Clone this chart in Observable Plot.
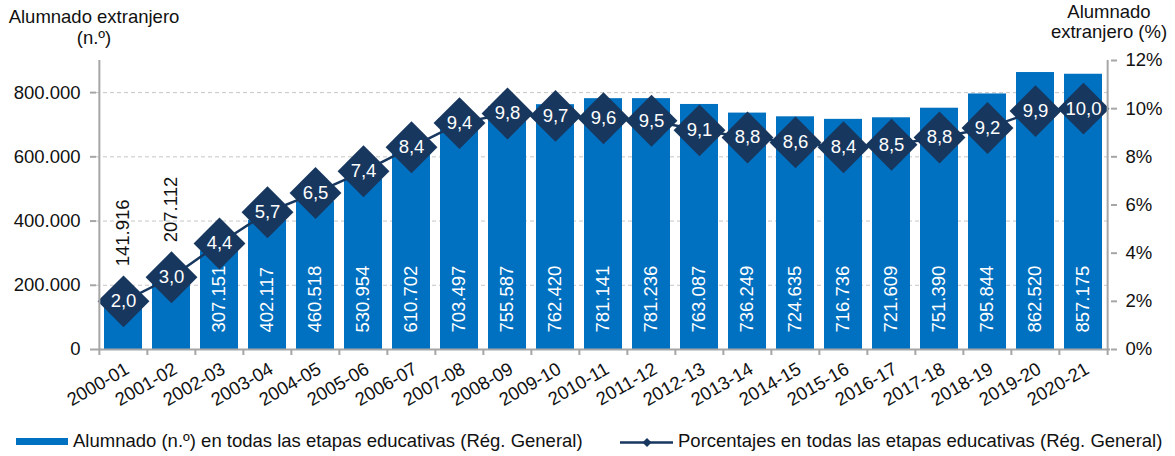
<!DOCTYPE html>
<html>
<head>
<meta charset="utf-8">
<script src="https://cdn.jsdelivr.net/npm/d3@7"></script>
<script src="https://cdn.jsdelivr.net/npm/@observablehq/plot@0.6"></script>
<style>
  body { margin: 0; background: #fff; font-family: "Liberation Sans", Arial, sans-serif; color: #111; }
  #wrap { position: relative; width: 1175px; height: 456px; overflow: hidden; background: #fff; }
  .t { position: absolute; font-size: 18.5px; text-align: center; white-space: nowrap; }
  .lg { position: absolute; font-size: 18.5px; line-height: 18px; white-space: nowrap; }
</style>
</head>
<body>
<div id="wrap">
  <div id="chart"></div>
  <div class="t" style="left:-6px; top:6px; width:200px; line-height:21px;">Alumnado extranjero<br>(n.º)</div>
  <div class="t" style="left:1009px; top:2px; width:200px; line-height:20px;">Alumnado<br>extranjero (%)</div>
  <div id="legend"></div>
</div>
<script>
// ---- Data ----
const years = ["2000-01","2001-02","2002-03","2003-04","2004-05","2005-06","2006-07","2007-08","2008-09","2009-10",
               "2010-11","2011-12","2012-13","2013-14","2014-15","2015-16","2016-17","2017-18","2018-19","2019-20","2020-21"];
const alumnos = [141916, 207112, 307151, 402117, 460518, 530954, 610702, 703497, 755587, 762420,
                 781141, 781236, 763087, 736249, 724635, 716736, 721609, 751390, 795844, 862520, 857175];
const porcentajes = [2.0, 3.0, 4.4, 5.7, 6.5, 7.4, 8.4, 9.4, 9.8, 9.7,
                     9.6, 9.5, 9.1, 8.8, 8.6, 8.4, 8.5, 8.8, 9.2, 9.9, 10.0];
const leftTicks = [0, 200000, 400000, 600000, 800000];
const rightTicks = [0, 2, 4, 6, 8, 10, 12];
const leftMax = 900000, rightMax = 12;
const legendLabels = ["Alumnado (n.º) en todas las etapas educativas (Rég. General)",
                      "Porcentajes en todas las etapas educativas (Rég. General)"];

// ---- Styling ----
const BLUE = "#0070C0", NAVY = "#17375E", AXIS = "#a6a6a6", GRID = "#c6c6c6", TXT = "#111";
const FS = 18.5;
const W = 1175, H = 420, mL = 96, mR = 65, mT = 60, mB = 71;
const step = (W - mL - mR) / years.length;
const K = leftMax / rightMax;

const loc = d3.formatLocale({decimal: ",", thousands: ".", grouping: [3], currency: ["", ""]});
const fmt = loc.format(",");
const pfmt = v => v.toFixed(1).replace(".", ",");

const data = years.map((year, i) => ({year, i, alumnos: alumnos[i], pct: porcentajes[i], pctY: porcentajes[i] * K}));

const chart = Plot.plot({
  width: W, height: H,
  marginLeft: mL, marginRight: mR, marginTop: mT, marginBottom: mB,
  style: {fontFamily: '"Liberation Sans", Arial, sans-serif', fontSize: FS + "px", color: TXT, background: "white", overflow: "visible"},
  x: {type: "band", domain: years, paddingInner: 0.2, paddingOuter: 0.1},
  y: {domain: [0, leftMax]},
  marks: [
    Plot.gridY({ticks: leftTicks.slice(1), stroke: GRID, strokeOpacity: 1, strokeDasharray: "4 3", strokeWidth: 1}),
    Plot.barY(data, {x: "year", y: "alumnos", fill: BLUE}),
    Plot.text(data.filter(d => d.i >= 2), {x: "year", y: 0, text: d => fmt(d.alumnos), rotate: -90, textAnchor: "start", dy: -17, fill: "white", fontSize: FS}),
    Plot.text(data.filter(d => d.i < 2), {x: "year", y: "pctY", text: d => fmt(d.alumnos), rotate: -90, textAnchor: "start", dy: -35, fill: TXT, fontSize: FS}),
    Plot.line(data, {x: "year", y: "pctY", stroke: NAVY, strokeWidth: 2.5}),
    Plot.dot(data, {x: "year", y: "pctY", symbol: "square", rotate: 45, r: 20.7, fill: NAVY, stroke: "none"}),
    Plot.text(data, {x: "year", y: "pctY", text: d => pfmt(d.pct), fill: "white", fontSize: FS}),
    // axis lines
    Plot.ruleY([0], {stroke: AXIS, strokeWidth: 2}),
    Plot.ruleX([years[0]], {x: d => d, dx: -step / 2, y1: leftMax, y2: 0, stroke: AXIS, strokeWidth: 2}),
    Plot.ruleX([years[years.length - 1]], {x: d => d, dx: step / 2, y1: leftMax, y2: 0, insetBottom: -6, stroke: AXIS, strokeWidth: 2}),
    // x axis: boundary ticks, then rotated labels
    Plot.axisX({fill: "none", tickSize: 6, dx: -step / 2, stroke: AXIS, strokeWidth: 2, label: null}),
    Plot.axisX({tickSize: 0, tickRotate: -30, tickPadding: 18, dx: 4, label: null, fill: TXT, fontSize: FS}),
    // left y axis
    Plot.axisY({anchor: "left", ticks: leftTicks, tickFormat: fmt, tickSize: 6, tickPadding: 10, stroke: AXIS, strokeWidth: 2, fill: TXT, label: null, fontSize: FS}),
    // right y axis (percent)
    Plot.axisY({anchor: "right", ticks: rightTicks.map(p => p * K), tickFormat: d => Math.round(d / K) + "%", tickSize: 6, tickPadding: 9, stroke: AXIS, strokeWidth: 2, fill: TXT, label: null, fontSize: FS})
  ]
});
document.getElementById("chart").appendChild(chart);

// ---- Legend ----
const lg = document.getElementById("legend");
lg.innerHTML = `
  <div style="position:absolute; left:16px; top:438px; width:52px; height:7px; background:${BLUE}"></div>
  <div class="lg" style="left:73px; top:432px;">${legendLabels[0]}</div>
  <svg style="position:absolute; left:618px; top:434px;" width="58" height="16">
    <line x1="2" x2="55" y1="8.5" y2="8.5" stroke="${NAVY}" stroke-width="2.5"></line>
    <path d="M29,4 L33.5,8.5 L29,13 L24.5,8.5 Z" fill="${NAVY}"></path>
  </svg>
  <div class="lg" style="left:678px; top:432px;">${legendLabels[1]}</div>
`;
</script>
</body>
</html>
